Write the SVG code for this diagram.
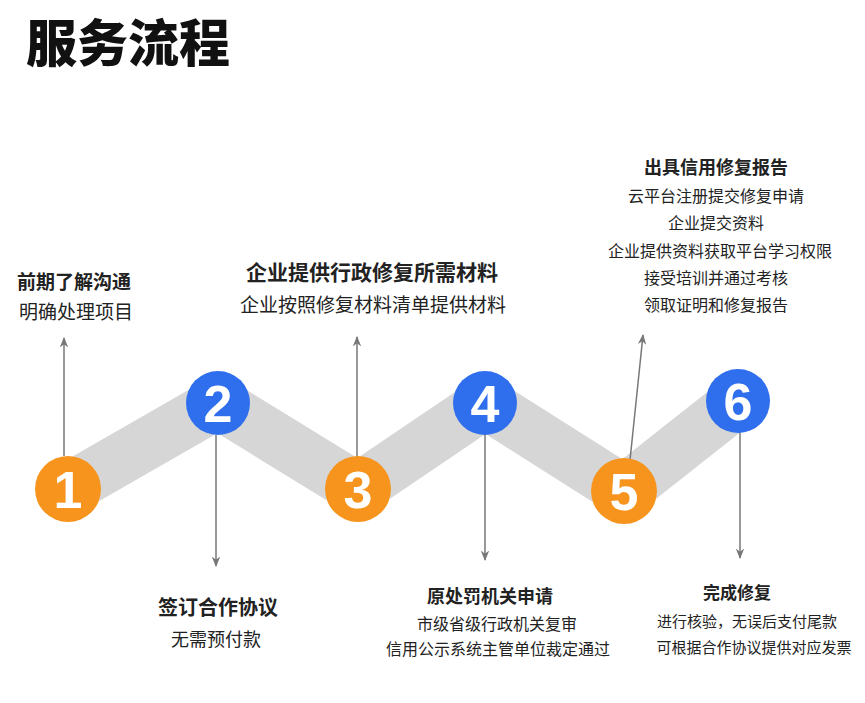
<svg xmlns="http://www.w3.org/2000/svg" width="865" height="703" viewBox="0 0 865 703">
<defs>
<style>
text{font-family:"Noto Sans CJK SC","Liberation Sans",sans-serif;fill:#222}
.num{font-family:"Liberation Sans",sans-serif;font-weight:900;font-size:52px;fill:#fff;text-anchor:middle}
.c{stroke:#777;stroke-width:1.5;fill:none;marker-end:url(#a)}
text.h,text.b,text.s{text-anchor:middle}
.h{font-weight:bold}
</style>
<marker id="a" viewBox="0 0 10 10" refX="9" refY="5" markerWidth="7" markerHeight="9" orient="auto-start-reverse"><path d="M0,1 L10,5 L0,9 L3,5z" fill="#777"/></marker>
</defs>
<rect width="865" height="703" fill="#fff"/>
<text x="26" y="62" style="font-weight:900;font-size:51px;fill:#111">服务流程</text>
<polyline points="68,489 218,403 358,489 485,403 624,491 738,401" fill="none" stroke="#d6d6d6" stroke-width="52" stroke-linejoin="miter"/>
<g id="connectors">
<line class="c" x1="64" y1="456" x2="64" y2="338"/>
<line class="c" x1="216" y1="435" x2="216" y2="566"/>
<line class="c" x1="357" y1="457" x2="357" y2="337"/>
<line class="c" x1="485" y1="432" x2="485" y2="560"/>
<line class="c" x1="630" y1="460" x2="643" y2="335"/>
<line class="c" x1="740" y1="432" x2="740" y2="558"/>
</g>
<g id="n1"><circle cx="68" cy="489" r="33" fill="#f7941d"/><text class="num" x="68" y="508">1</text>
<text class="h" x="74" y="289" font-size="19">前期了解沟通</text><text class="b" x="76" y="319" font-size="19">明确处理项目</text></g>
<g id="n2"><circle cx="218" cy="403" r="32" fill="#2f6fee"/><text class="num" x="218" y="422">2</text>
<text class="h" x="218" y="615" font-size="20">签订合作协议</text><text class="b" x="216" y="646" font-size="18">无需预付款</text></g>
<g id="n3"><circle cx="358" cy="489" r="33" fill="#f7941d"/><text class="num" x="358" y="508">3</text>
<text class="h" x="372" y="280" font-size="21">企业提供行政修复所需材料</text><text class="b" x="373" y="312" font-size="19">企业按照修复材料清单提供材料</text></g>
<g id="n4"><circle cx="485" cy="403" r="32" fill="#2f6fee"/><text class="num" x="485" y="422">4</text>
<text class="h" x="490" y="603" font-size="18">原处罚机关申请</text><text class="s" x="497" y="630" font-size="16">市级省级行政机关复审</text><text class="s" x="498" y="655" font-size="16">信用公示系统主管单位裁定通过</text></g>
<g id="n5"><circle cx="624" cy="491" r="33" fill="#f7941d"/><text class="num" x="624" y="510">5</text>
<text class="h" x="716" y="174" font-size="18">出具信用修复报告</text>
<text class="s" x="716" y="202" font-size="16">云平台注册提交修复申请</text>
<text class="s" x="716" y="229" font-size="16">企业提交资料</text>
<text class="s" x="720" y="257" font-size="16">企业提供资料获取平台学习权限</text>
<text class="s" x="716" y="284" font-size="16">接受培训并通过考核</text>
<text class="s" x="716" y="311" font-size="16">领取证明和修复报告</text></g>
<g id="n6"><circle cx="738" cy="401" r="32" fill="#2f6fee"/><text class="num" x="738" y="420">6</text>
<text class="h" x="737" y="599" font-size="17">完成修复</text><text class="s" x="747" y="627" font-size="15">进行核验，无误后支付尾款</text><text class="s" x="754" y="653" font-size="15">可根据合作协议提供对应发票</text></g>
</svg>
